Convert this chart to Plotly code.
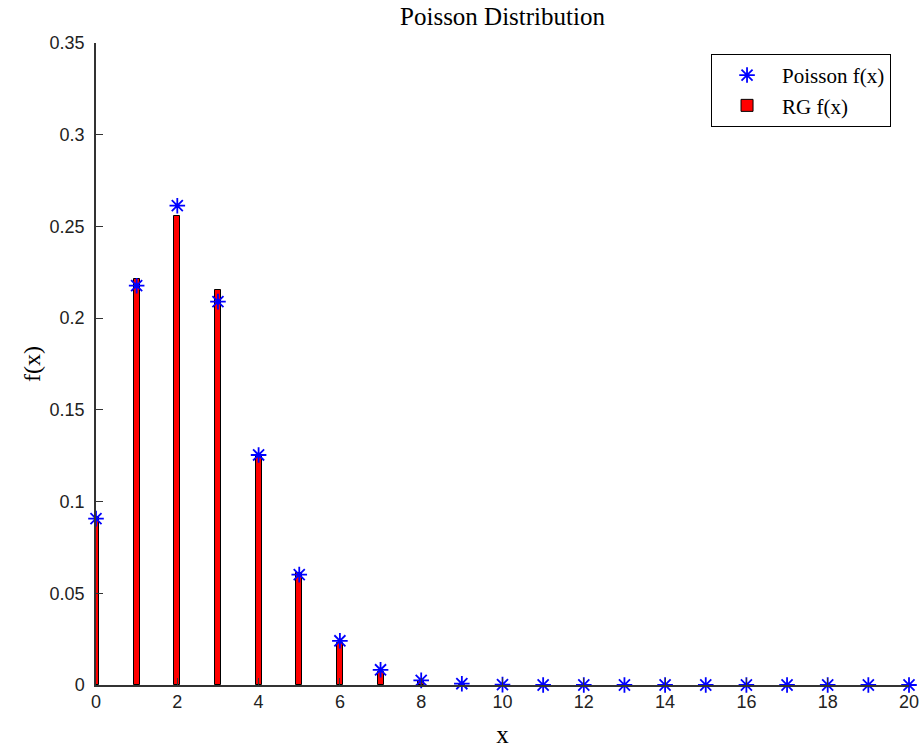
import plotly.graph_objects as go

# Outcomes 0..20
x_vals = list(range(21))

# Theoretical Poisson probabilities
poisson_f = [0.0907, 0.2177, 0.2613, 0.2090, 0.1254, 0.0602, 0.0241, 0.0083,
             0.0025, 0.0007, 0.0002, 0.0, 0.0, 0.0, 0.0, 0.0, 0.0, 0.0, 0.0, 0.0, 0.0]

# Relative frequencies from the random generator
rg_f = [0.0916, 0.2214, 0.2557, 0.2155, 0.1254, 0.0611, 0.0227, 0.0073,
        0.0020, 0.0005, 0.0, 0.0, 0.0, 0.0, 0.0, 0.0, 0.0, 0.0, 0.0, 0.0, 0.0]

x_ticks = list(range(0, 21, 2))
y_ticks = [0, 0.05, 0.1, 0.15, 0.2, 0.25, 0.3, 0.35]
y_tick_text = ["0", "0.05", "0.1", "0.15", "0.2", "0.25", "0.3", "0.35"]

serif = "Liberation Serif, Times New Roman, serif"
sans = "Liberation Sans, Arial, sans-serif"

fig = go.Figure()

fig.add_trace(go.Bar(
    x=x_vals, y=rg_f, name="RG f(x)", width=0.15,
    marker=dict(color="#ff0000", line=dict(color="black", width=1)),
))

fig.add_trace(go.Scatter(
    x=x_vals, y=poisson_f, name="Poisson f(x)", mode="markers",
    marker=dict(symbol="asterisk-open", size=13, color="#0000ff",
                line=dict(color="#0000ff", width=1.8)),
    cliponaxis=False,
))

fig.update_layout(
    width=924, height=751,
    margin=dict(l=96, r=15, t=43, b=66),
    paper_bgcolor="white", plot_bgcolor="white",
    showlegend=True,
    legend=dict(
        x=0.7565, y=0.983, xanchor="left", yanchor="top",
        bordercolor="black", borderwidth=1, bgcolor="white",
        font=dict(family=serif, size=21, color="black"),
        traceorder="reversed", tracegroupgap=0, itemwidth=60,
    ),
    title=dict(text="Poisson Distribution", x=0.5, xref="paper",
               y=0.99, yref="container", yanchor="top",
               font=dict(family=serif, size=25, color="black")),
    bargap=0,
)

fig.update_xaxes(
    range=[0, 20], tickmode="array", tickvals=x_ticks,
    ticks="inside", ticklen=7, tickcolor="#333", tickwidth=1,
    showline=True, linecolor="#333", linewidth=1.5, mirror=False,
    showgrid=False, zeroline=False, automargin=False,
    tickfont=dict(family=sans, size=18, color="#222"),
    title=dict(text="x", font=dict(family=serif, size=25, color="black"), standoff=14),
)

fig.update_yaxes(
    range=[0, 0.35], tickmode="array", tickvals=y_ticks, ticktext=y_tick_text,
    ticks="inside", ticklen=7, tickcolor="#333", tickwidth=1,
    ticklabelstandoff=6,
    showline=True, linecolor="#333", linewidth=1.5, mirror=False,
    showgrid=False, zeroline=False, automargin=False,
    tickfont=dict(family=sans, size=18, color="#222"),
    title=dict(text="f(x)", font=dict(family=serif, size=24, color="black"), standoff=2),
)

fig.write_html("out.html")
